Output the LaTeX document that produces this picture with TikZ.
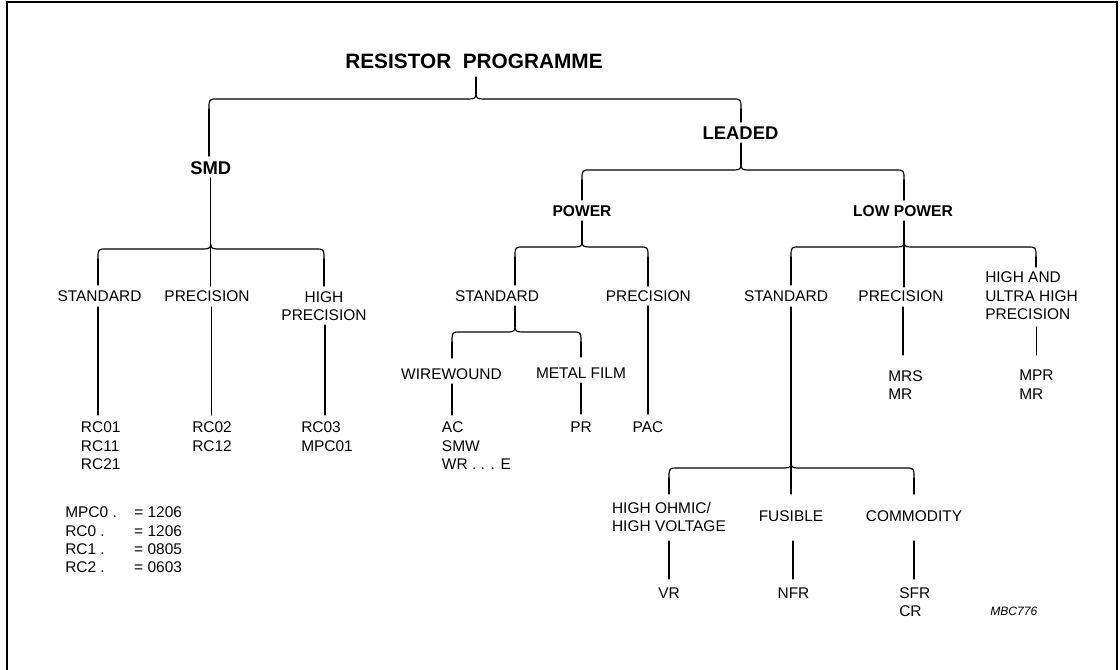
\documentclass[tikz,border=0pt]{standalone}
\usepackage{fontspec}
\setmainfont{Liberation Sans}
\newcommand\regf{\fontsize{11.6}{13.7}\selectfont}
\newcommand\titlef{\fontsize{15.6}{18}\selectfont\bfseries}
\newcommand\bigbf{\fontsize{13.8}{16}\selectfont\bfseries}
\newcommand\midbf{\fontsize{11.7}{14}\selectfont\bfseries}
\newcommand\smallit{\fontsize{9.1}{11}\selectfont\itshape}
\newcommand\curlyb[4]{\draw[conn] (#1,#4+10) .. controls (#1,#4) .. (#1+9,#4) -- (#2-7,#4) .. controls (#2-2,#4) and (#2,#4-1) .. (#2,#4-5) .. controls (#2,#4-1) and (#2+2,#4) .. (#2+7,#4) -- (#3-9,#4) .. controls (#3,#4) .. (#3,#4+10);}
\tikzset{
  lab/.style={inner sep=0pt, font=\regf, align=center, anchor=north},
  labl/.style={inner sep=0pt, font=\regf, align=left, anchor=north west},
  conn/.style={line width=0.9pt, line join=round, line cap=round},
  frame/.style={line width=1.5pt}
}
\begin{document}
\begin{tikzpicture}[x=0.75pt,y=-0.75pt]
\useasboundingbox (0,0) rectangle (1120,670);
\fill[white] (0,0) rectangle (1120,670);
\draw[frame] (7,675) -- (7,2.5) -- (1117,2.5) -- (1117,675);

% texts
\node[lab, font=\titlef] (root) at (474,54) {RESISTOR\ \ PROGRAMME};
\node[lab, font=\bigbf] (smd) at (210.7,161) {SMD};
\node[lab, font=\bigbf] (leaded) at (740.5,127) {LEADED};
\node[lab, font=\midbf] (power) at (582,205) {POWER};
\node[lab, font=\midbf] (lowpower) at (903,205) {LOW POWER};

\node[lab] (sstd) at (99.5,290.7) {STANDARD};
\node[lab] (sprec) at (207,290.7) {PRECISION};
\node[lab] (shigh) at (324,291) {HIGH\\PRECISION};
\node[labl] (rc1) at (80.7,421.7) {RC01\\RC11\\RC21};
\node[labl] (rc2) at (192,421.7) {RC02\\RC12};
\node[labl] (rc3) at (301,421.7) {RC03\\MPC01};
\node[labl] (legend) at (65,506.7) {\makebox[51.75pt][l]{MPC0 .}= 1206\\\makebox[51.75pt][l]{RC0 .}= 1206\\\makebox[51.75pt][l]{RC1 .}= 0805\\\makebox[51.75pt][l]{RC2 .}= 0603};

\node[lab] (pstd) at (497,290) {STANDARD};
\node[lab] (pprec) at (648.3,290) {PRECISION};
\node[lab] (ww) at (451.5,368) {WIREWOUND};
\node[lab] (mf) at (581,368) {METAL FILM};
\node[labl] (ac) at (441.7,421.7) {AC\\SMW\\WR . . . E};
\node[lab] (pr) at (581,421.7) {PR};
\node[lab] (pac) at (648,421.7) {PAC};

\node[lab] (lstd) at (786,290) {STANDARD};
\node[lab] (lprec) at (901,290) {PRECISION};
\node[labl] (lhigh) at (985,271.7) {HIGH AND\\ULTRA HIGH\\PRECISION};
\node[labl] (mrs) at (888,370) {MRS\\MR};
\node[labl] (mpr) at (1019,370) {MPR\\MR};
\node[labl] (ohm) at (611.8,501.8) {HIGH OHMIC/\\HIGH VOLTAGE};
\node[lab] (fus) at (791,510.7) {FUSIBLE};
\node[lab] (com) at (914,510.7) {COMMODITY};
\node[lab] (vr) at (669,587.5) {VR};
\node[lab] (nfr) at (793.5,587.5) {NFR};
\node[labl] (sfr) at (899,587.5) {SFR\\CR};
\node[labl, font=\smallit] (code) at (990,607) {MBC776};

% connectors
\draw[conn] (476,77) -- (476,94);
\curlyb{209}{476}{741}{99}
\draw[conn] (209,109) -- (209,156);
\draw[conn] (741,109) -- (741,122);

\draw[conn] (210.7,178) -- (210.7,286);
\curlyb{98}{210.7}{324}{249}
\draw[conn] (98,259) -- (98,285);
\draw[conn] (324,259) -- (324,286);
\draw[conn] (98,307) -- (98,415);
\draw[conn] (211.5,307) -- (211.5,415);
\draw[conn] (325,325) -- (325,415);

\draw[conn] (741,143) -- (741,165);
\curlyb{582}{741}{904}{170}
\draw[conn] (582,180) -- (582,200);
\draw[conn] (904,180) -- (904,200);

\draw[conn] (582,221) -- (582,243);
\curlyb{515}{582}{648}{247}
\draw[conn] (515,257) -- (515,285);
\draw[conn] (648,257) -- (648,286);

\draw[conn] (904,221) -- (904,287);
\curlyb{791}{904}{1036}{247}
\draw[conn] (791,257) -- (791,285);
\draw[conn] (1036,257) -- (1036,267);

\draw[conn] (515,306) -- (515,327);
\curlyb{452}{515}{581}{332}
\draw[conn] (452,342) -- (452,358);
\draw[conn] (581,342) -- (581,357);
\draw[conn] (452,384) -- (452,415);
\draw[conn] (581,383) -- (581,414);
\draw[conn] (648,306) -- (648,414);

\draw[conn] (791,307) -- (791,494);
\curlyb{669}{791}{914}{468}
\draw[conn] (669,478) -- (669,494);
\draw[conn] (914,478) -- (914,494);
\draw[conn] (903,307) -- (903,355);
\draw[conn] (1036.5,327) -- (1036.5,355);
\draw[conn] (669,541) -- (669,579);
\draw[conn] (793,541) -- (793,579);
\draw[conn] (914,541) -- (914,579);
\end{tikzpicture}
\end{document}
